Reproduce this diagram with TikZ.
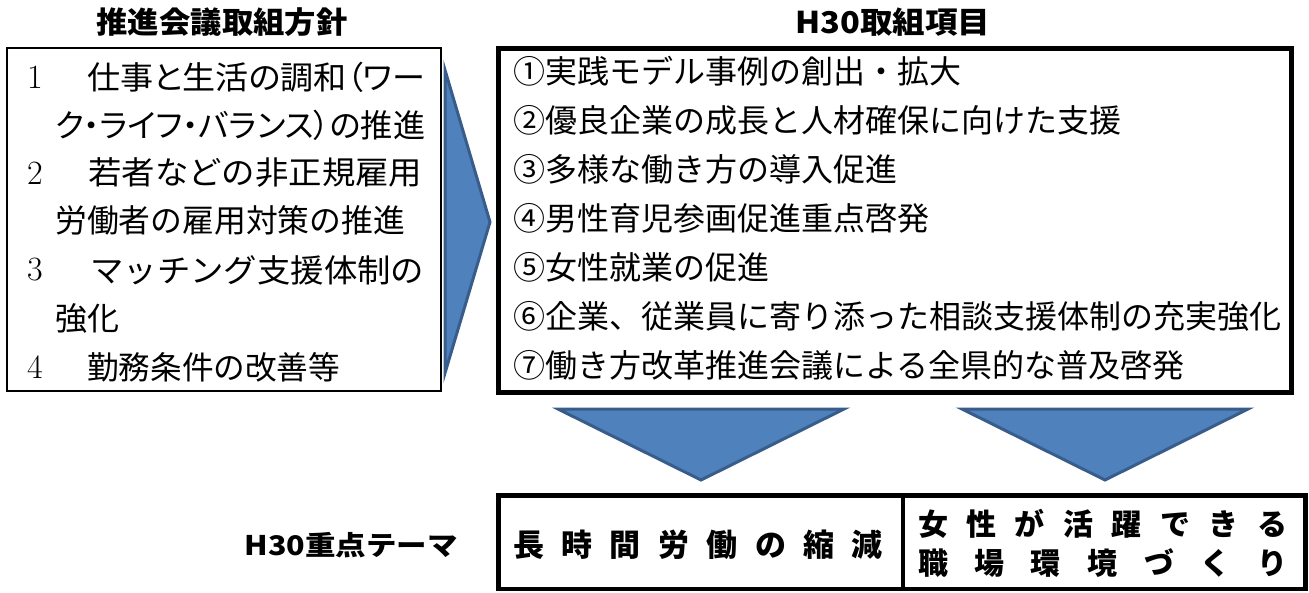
\documentclass[tikz,border=0pt]{standalone}
\usepackage{graphicx}
\usepackage{fontspec}
\newfontfamily\jp{Noto Sans CJK JP}
\newfontfamily\jpp{Noto Sans CJK JP}[RawFeature=+palt]
\newcommand\fitw[2]{\resizebox{#1}{\height}{#2}}
\definecolor{arrowfill}{HTML}{4F81BD}
\definecolor{arrowline}{HTML}{385D8A}
\tikzset{
  lt/.style={anchor=west, inner sep=0pt, font=\jp\fontsize{32}{38}\selectfont},
  dig/.style={anchor=west, inner sep=0pt, font=\fontsize{34}{40}\selectfont},
  rt/.style={anchor=west, inner sep=0pt, font=\jp\fontsize{32}{38}\selectfont},
  ttl/.style={inner sep=0pt, font=\jp\bfseries\fontsize{30}{36}\selectfont},
  theme/.style={inner sep=0pt, font=\jp\bfseries\fontsize{31}{37}\selectfont},
  thinbox/.style={draw, line width=2.5pt, inner sep=0pt},
  thickbox/.style={draw, line width=4.5pt, inner sep=0pt},
  tri/.style={fill=arrowfill, draw=arrowline, line width=3pt, line join=miter},
}
\begin{document}
\begin{tikzpicture}[x=1pt, y=-1pt]
\useasboundingbox (0,0) rectangle (1309,592);

% titles
\node[ttl] (t1) at (222,22) {\fitw{251pt}{推進会議取組方針}};
\node[ttl] (t2) at (893,22) {\fitw{195pt}{H30取組項目}};

% left box
\node[thinbox, minimum width=434pt, minimum height=343pt] (lbox) at (224,219.5) {};
\node[dig] (d1) at (27,77) {1};
\node[lt] (l1) at (87,77) {\fitw{338pt}{\jpp 仕事と生活の調和（ワー}};
\node[lt] (l2) at (55,125) {\fitw{370pt}{\jpp ク・ライフ・バランス）の推進}};
\node[dig] (d2) at (27,173) {2};
\node[lt] (l3) at (88,173) {\fitw{334pt}{若者などの非正規雇用}};
\node[lt] (l4) at (55,220) {\fitw{350pt}{労働者の雇用対策の推進}};
\node[dig] (d3) at (27,270) {3};
\node[lt] (l5) at (90,270) {\fitw{334pt}{マッチング支援体制の}};
\node[lt] (l6) at (55,318) {強化};
\node[dig] (d4) at (27,367) {4};
\node[lt] (l7) at (87,367) {\fitw{253pt}{勤務条件の改善等}};

% right arrow
\draw[tri] (445,70) -- (490,222) -- (445,373) -- cycle;

% right box
\node[thickbox, minimum width=793pt, minimum height=344pt] (rbox) at (895,220.5) {};
\node[rt] (r1) at (513,71) {①実践モデル事例の創出・拡大};
\node[rt] (r2) at (513,120) {②優良企業の成長と人材確保に向けた支援};
\node[rt] (r3) at (513,169) {③多様な働き方の導入促進};
\node[rt] (r4) at (513,218) {④男性育児参画促進重点啓発};
\node[rt] (r5) at (513,267) {⑤女性就業の促進};
\node[rt] (r6) at (513,316) {⑥企業、従業員に寄り添った相談支援体制の充実強化};
\node[rt] (r7) at (513,365) {⑦働き方改革推進会議による全県的な普及啓発};

% down arrows
\draw[tri] (558,409) -- (844,409) -- (701,480) -- cycle;
\draw[tri] (962,409) -- (1248,409) -- (1105,480) -- cycle;

% bottom theme
\node[inner sep=0pt, font=\jp\bfseries\fontsize{27}{32}\selectfont] (hl) at (351,545) {\fitw{213pt}{H30重点テーマ}};
\node[thickbox, minimum width=404.5pt, minimum height=93.5pt] (c1) at (700.5,542) {};
\node[thickbox, minimum width=402.5pt, minimum height=93.5pt] (c2) at (1104,542) {};
\node[theme] (th1) at (698,545) {\makebox[370pt][s]{長\hfill 時\hfill 間\hfill 労\hfill 働\hfill の\hfill 縮\hfill 減}};
\node[theme, font=\jp\bfseries\fontsize{30}{36}\selectfont] (th2) at (1102.5,524) {\makebox[369pt][s]{女\hfill 性\hfill が\hfill 活\hfill 躍\hfill で\hfill き\hfill る}};
\node[theme, font=\jp\bfseries\fontsize{30}{36}\selectfont] (th3) at (1102.5,563) {\makebox[369pt][s]{職\hfill 場\hfill 環\hfill 境\hfill づ\hfill く\hfill り}};
\end{tikzpicture}
\end{document}
